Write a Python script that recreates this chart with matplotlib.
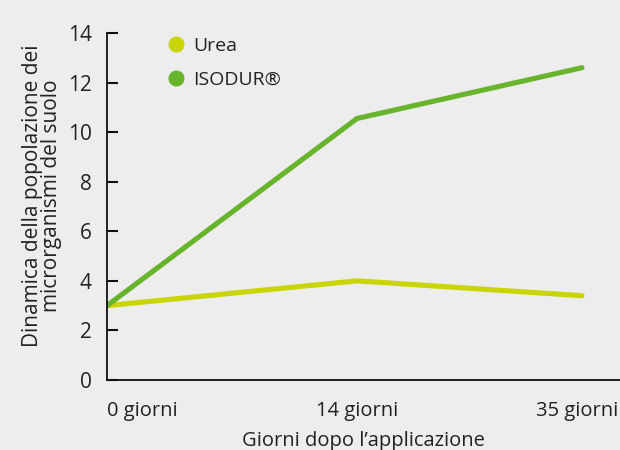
import matplotlib
matplotlib.use("Agg")
import matplotlib.pyplot as plt
import matplotlib.transforms as mtransforms
from matplotlib.lines import Line2D

# data
categories = ["0 giorni", "14 giorni", "35 giorni"]
x_pos = [0, 1, 1.9]
urea = [3.0, 4.0, 3.4]
isodur = [3.0, 10.55, 12.6]
y_ticks = [0, 2, 4, 6, 8, 10, 12, 14]

BG = "#ededed"
C_UREA = "#c9d500"
C_ISO = "#68b42c"
TXT = "#222222"

plt.rcParams["font.family"] = ["Open Sans", "DejaVu Sans"]

fig = plt.figure(figsize=(6.2, 4.5), dpi=100, facecolor=BG)
ax = fig.add_axes([0.1726, 0.1556, 0.8274, 0.7711], facecolor=BG)

ax.plot(x_pos, urea, color=C_UREA, lw=3.7, solid_capstyle="round", solid_joinstyle="round")
ax.plot(x_pos, isodur, color=C_ISO, lw=3.7, solid_capstyle="round", solid_joinstyle="round")

ax.set_xlim(0, 2.052)
ax.set_ylim(0, 14)
ax.set_yticks(y_ticks)
ax.set_yticklabels([str(v) for v in y_ticks], fontsize=15, color=TXT)
ax.set_xticks(x_pos)
ax.set_xticklabels(categories, fontsize=14.5, color=TXT)
ax.tick_params(axis="y", direction="in", length=8, width=1.5, color="#111111", pad=11)
ax.tick_params(axis="x", length=0, pad=15)

# first label starts at the axis, last one sits flush with the right edge
xl = ax.get_xticklabels()
xl[0].set_ha("left")
xl[-1].set_ha("right")
xl[-1].set_transform(xl[-1].get_transform() +
                     mtransforms.ScaledTranslation(36 / 100, 0, fig.dpi_scale_trans))

for s in ("top", "right"):
    ax.spines[s].set_visible(False)
for s in ("left", "bottom"):
    ax.spines[s].set_color("#111111")
    ax.spines[s].set_linewidth(1.3)

ax.set_xlabel("Giorni dopo l\u2019applicazione", fontsize=14.5, color=TXT, labelpad=7)
ax.set_ylabel("Dinamica della popolazione dei\nmicrorganismi del suolo", fontsize=15,
              color=TXT, linespacing=0.85)
ax.yaxis.set_label_coords(-0.088, 0.53)

handles = [Line2D([], [], ls="none", marker="o", ms=10.5, color=C_UREA, label="Urea"),
           Line2D([], [], ls="none", marker="o", ms=10.5, color=C_ISO, label="ISODUR\u00ae")]
leg = ax.legend(handles=handles, loc="upper left", bbox_to_anchor=(0.077, 1.04),
                frameon=False, fontsize=14, handletextpad=0.3, labelspacing=0.85,
                handlelength=1.2)
for t in leg.get_texts():
    t.set_color(TXT)

fig.savefig("out.png", dpi=100, facecolor=BG)
